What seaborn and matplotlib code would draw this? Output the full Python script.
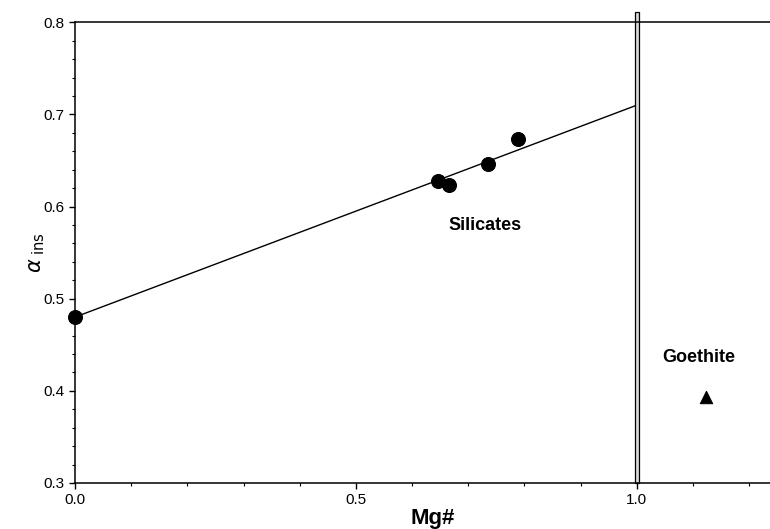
import matplotlib
matplotlib.use("Agg")
import matplotlib.pyplot as plt
import seaborn as sns
import pandas as pd
from matplotlib.ticker import MultipleLocator

# data
mg_silicates = [0.0, 0.646, 0.665, 0.735, 0.788]
alpha_silicates = [0.480, 0.628, 0.623, 0.646, 0.673]
mg_goethite = [1.123]
alpha_goethite = [0.393]
fit_x = [0.0, 1.0]
fit_y = [0.480, 0.710]

sns.set_theme(style="ticks")
plt.rcParams['font.family'] = ['Liberation Sans', 'DejaVu Sans']
plt.rcParams['text.color'] = 'black'
plt.rcParams['axes.labelcolor'] = 'black'
plt.rcParams['xtick.color'] = 'black'
plt.rcParams['ytick.color'] = 'black'

fig = plt.figure(figsize=(7.7, 5.29), dpi=100)
ax = fig.add_axes([0.0974, 0.087, 0.9026, 0.871])

sil = pd.DataFrame({'Mg#': mg_silicates, 'alpha': alpha_silicates})
goe = pd.DataFrame({'Mg#': mg_goethite, 'alpha': alpha_goethite})
fit = pd.DataFrame({'Mg#': fit_x, 'alpha': fit_y})

sns.lineplot(data=fit, x='Mg#', y='alpha', color='black', lw=1.0, ax=ax)
sns.scatterplot(data=sil, x='Mg#', y='alpha', color='black', s=100, marker='o',
                edgecolor='black', zorder=3, clip_on=False, ax=ax)
sns.scatterplot(data=goe, x='Mg#', y='alpha', color='black', s=80, marker='^',
                edgecolor='black', zorder=3, ax=ax)

# boundary band at Mg# = 1
ax.axvspan(0.997, 1.004, ymin=0, ymax=1.022, facecolor='#d8d8d8',
           edgecolor='black', lw=0.9, clip_on=False, zorder=2)

ax.text(0.73, 0.579, 'Silicates', fontsize=13, fontweight='bold', ha='center', va='center')
ax.text(1.11, 0.436, 'Goethite', fontsize=13, fontweight='bold', ha='center', va='center')

ax.set_xlim(0, 1.237)
ax.set_ylim(0.3, 0.8)
ax.xaxis.set_major_locator(MultipleLocator(0.5))
ax.xaxis.set_minor_locator(MultipleLocator(0.1))
ax.yaxis.set_major_locator(MultipleLocator(0.1))
ax.yaxis.set_minor_locator(MultipleLocator(0.02))
ax.xaxis.set_major_formatter(lambda v, p: f'{v:.1f}')
ax.yaxis.set_major_formatter(lambda v, p: f'{v:.1f}')
ax.tick_params(axis='both', which='major', labelsize=11, length=4, width=1)
ax.tick_params(axis='both', which='minor', length=2, width=0.8)

for side in ['left', 'bottom', 'top']:
    ax.spines[side].set_color('black')
    ax.spines[side].set_linewidth(1.1)
ax.spines['right'].set_visible(False)

ax.set_xlabel('Mg#', fontsize=16, fontweight='bold', labelpad=1)
ax.xaxis.set_label_coords(0.515, -0.055)
ax.set_ylabel(r'$\alpha_{\ \rm ins}$', fontsize=15)
ax.yaxis.set_label_coords(-0.04, 0.5)

fig.savefig('out.png', dpi=100, facecolor='white')
